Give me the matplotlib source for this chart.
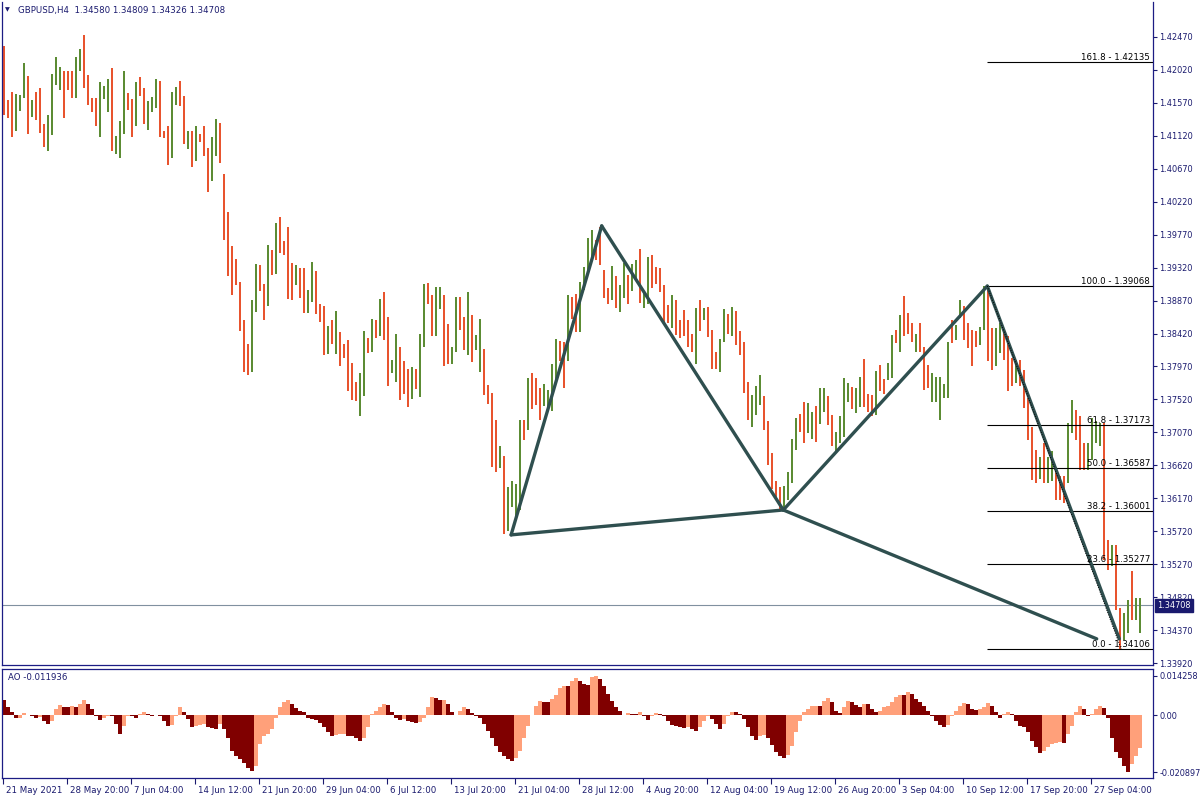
import matplotlib
matplotlib.use("Agg")
import matplotlib.pyplot as plt
import matplotlib.transforms as mtrans
import numpy as np

# ---------------- data (GBPUSD H4, each entry = envelope of two H4 bars) ----------------
highs = [
 1.4235,1.4161,1.4172,1.4169,1.4168,1.4212,1.4194,1.4161,1.4172,1.4178,
 1.4128,1.4141,1.4197,1.4220,1.4206,1.4201,1.4201,1.4201,1.4219,1.4231,
 1.4250,1.4195,1.4164,1.4164,1.4185,1.4180,1.4189,1.4204,1.4112,1.4132,
 1.4201,1.4170,1.4163,1.4186,1.4192,1.4178,1.4160,1.4165,1.4190,1.4187,
 1.4119,1.4125,1.4172,1.4179,1.4187,1.4167,1.4119,1.4119,1.4125,1.4115,
 1.4125,1.4095,1.4110,1.4135,1.4130,
 1.4060,1.4008,1.3962,1.3944,1.3912,1.3861,1.3828,1.3888,1.3937,1.3936,
 1.3910,1.3963,1.3956,1.3993,1.4001,1.3968,1.3987,1.3938,1.3936,1.3932,
 1.3931,1.3901,1.3940,1.3927,1.3882,1.3879,1.3852,1.3861,1.3873,1.3844,
 1.3828,1.3833,1.3802,1.3776,1.3788,1.3845,1.3836,1.3862,1.3860,1.3889,
 1.3899,1.3864,1.3806,1.3841,
 1.3824,1.3805,1.3794,1.3796,1.3794,1.3842,1.3909,1.3911,1.3895,1.3906,
 1.3906,1.3895,1.3855,1.3824,1.3892,1.3892,1.3865,1.3899,1.3867,1.3840,
 1.3862,1.3821,1.3772,1.3761,1.3724,1.3689,1.3675,1.3632,1.3641,1.3637,
 1.3724,1.3724,1.3781,1.3788,1.3781,1.3768,1.3773,1.3765,1.3801,1.3835,
 1.3832,1.3831,1.3894,1.3892,1.3896,1.3913,1.3933,1.3973,
 1.3983,1.3970,1.3988,1.3929,1.3904,1.3934,1.3920,1.3908,1.3939,1.3922,
 1.3937,1.3943,1.3958,1.3897,1.3946,1.3949,1.3933,1.3932,1.3908,1.3881,
 1.3895,1.3888,1.3861,1.3874,1.3861,1.3842,1.3877,1.3888,1.3877,1.3878,
 1.3847,1.3817,1.3834,1.3875,1.3868,1.3878,1.3873,1.3845,1.3830,1.3776,
 1.3758,1.3770,1.3786,1.3757,1.3722,1.3679,1.3640,
 1.3633,1.3634,1.3653,1.3698,1.3726,1.3732,1.3749,1.3747,1.3735,1.3743,
 1.3768,1.3767,1.3757,1.3731,1.3708,1.3730,1.3781,1.3775,1.3769,1.3768,
 1.3783,1.3807,1.3760,1.3758,1.3791,1.3799,1.3780,1.3802,1.3840,1.3847,
 1.3867,1.3893,1.3870,1.3856,1.3842,1.3856,1.3824,1.3799,1.3788,1.3783,
 1.3783,1.3773,1.3831,1.3861,1.3854,1.3888,1.3880,1.3856,
 1.3847,1.3845,1.3851,1.3907,1.3905,1.3849,1.3849,1.3856,1.3845,1.3838,
 1.3808,1.3806,1.3806,1.3792,1.3754,1.3715,1.3683,1.3674,1.3692,1.3674,
 1.3681,1.3660,1.3647,1.3647,1.3720,1.3751,1.3738,1.3729,1.3692,1.3692,
 1.3726,1.3722,1.3720,1.3720,1.3560,1.3553,1.3553,1.3467,1.3460,1.3478,
 1.3517,1.3481,1.34809,
]
lows = [
 1.4141,1.4137,1.4111,1.4119,1.4146,1.4164,1.4115,1.4138,1.4133,1.4116,
 1.4097,1.4091,1.4113,1.4182,1.4174,1.4136,1.4174,1.4164,1.4164,1.4201,
 1.4177,1.4154,1.4145,1.4125,1.4111,1.4162,1.4144,1.4091,1.4087,1.4082,
 1.4115,1.4147,1.4111,1.4126,1.4167,1.4128,1.4120,1.4144,1.4150,1.4111,
 1.4109,1.4072,1.4082,1.4154,1.4153,1.4101,1.4094,1.4070,1.4078,1.4103,
 1.4085,1.4035,1.4050,1.4085,1.4075,
 1.3970,1.3921,1.3894,1.3908,1.3846,1.3790,1.3785,1.3790,1.3871,1.3900,
 1.3860,1.3879,1.3922,1.3923,1.3952,1.3949,1.3889,1.3888,1.3908,1.3891,
 1.3870,1.3870,1.3885,1.3869,1.3858,1.3813,1.3814,1.3828,1.3814,1.3797,
 1.3809,1.3764,1.3751,1.3750,1.3730,1.3757,1.3816,1.3817,1.3836,1.3838,
 1.3833,1.3771,1.3788,1.3776,
 1.3751,1.3760,1.3741,1.3753,1.3766,1.3755,1.3823,1.3882,1.3838,1.3839,
 1.3876,1.3798,1.3801,1.3800,1.3817,1.3847,1.3820,1.3812,1.3803,1.3820,
 1.3790,1.3758,1.3746,1.3660,1.3653,1.3659,1.3568,1.3572,1.3605,1.3590,
 1.3601,1.3697,1.3710,1.3739,1.3745,1.3724,1.3743,1.3741,1.3736,1.3776,
 1.3804,1.3767,1.3804,1.3862,1.3844,1.3844,1.3902,1.3925,
 1.3947,1.3943,1.3936,1.3890,1.3883,1.3888,1.3877,1.3871,1.3890,1.3883,
 1.3900,1.3918,1.3884,1.3877,1.3883,1.3904,1.3909,1.3899,1.3856,1.3856,
 1.3849,1.3840,1.3836,1.3839,1.3824,1.3817,1.3801,1.3846,1.3861,1.3837,
 1.3793,1.3793,1.3789,1.3830,1.3842,1.3838,1.3827,1.3813,1.3761,1.3724,
 1.3715,1.3731,1.3745,1.3710,1.3663,1.3629,1.3615,
 1.3601,1.3599,1.3615,1.3638,1.3683,1.3708,1.3692,1.3706,1.3698,1.3694,
 1.3719,1.3735,1.3717,1.3688,1.3679,1.3692,1.3701,1.3749,1.3739,1.3733,
 1.3742,1.3742,1.3735,1.3730,1.3731,1.3763,1.3760,1.3779,1.3781,1.3829,
 1.3817,1.3838,1.3842,1.3831,1.3817,1.3817,1.3765,1.3767,1.3749,1.3749,
 1.3724,1.3754,1.3754,1.3829,1.3833,1.3863,1.3833,1.3822,
 1.3797,1.3824,1.3826,1.3847,1.3804,1.3792,1.3797,1.3815,1.3806,1.3763,
 1.3770,1.3774,1.3770,1.3740,1.3697,1.3642,1.3638,1.3644,1.3638,1.3638,
 1.3640,1.3615,1.3615,1.3610,1.3638,1.3706,1.3697,1.3656,1.3656,1.3656,
 1.3669,1.3692,1.3688,1.3533,1.3519,1.3524,1.3465,1.3411,1.3424,1.3433,
 1.3451,1.3451,1.34326,
]
direction = ("RRRGGGRGRR" "RGGGGRRRGG" "RRRRGGGRGG" "GRRGRRGGGR" "RRGGRRGRGR" "RRGGR"
             "RRRRRRRGGR" "RGRGRRRRGR" "RGGRRRGRGR" "RRRRGGRGRG" "RRGG"
             "RRRGRGGRRG" "GRRGGRRGRG" "GRRRRGRGGG" "GRGRRRGGGG" "RRGRRGGG"
             "GRRRRGRGGR" "GGRGGRRRRR" "GRRRRRGRGR" "RRGGRGRRRR" "GGGRRRR"
             "RGGGGRRGGR" "GGRRGGGGRG" "GRRRGRRGGR" "GRRRGRRRGG" "GGGRGGRR"
             "RRGGRRGGRR" "RGRRRRRGRG" "GRRRGGRRRG" "GGGRRGRRGG" "RGG")

ao = [
 0.0055,0.0028,0.0010,-0.0012,-0.0009,0.0006,0.0002,-0.0005,-0.0009,-0.0006,
 -0.0021,-0.0033,-0.0021,0.0022,0.0037,0.0030,0.0028,0.0032,0.0031,0.0040,
 0.0055,0.0040,0.0022,-0.0002,-0.0018,-0.0009,-0.0002,-0.0003,-0.0033,-0.0069,
 -0.0039,-0.0002,-0.0005,-0.0011,0.0004,0.0012,0.0004,-0.0005,0.0001,-0.0005,
 -0.0021,-0.0039,-0.0037,-0.0002,0.0028,0.0010,-0.0015,-0.0043,-0.0039,-0.0037,
 -0.0033,-0.0043,-0.0049,-0.0051,-0.0033,-0.0051,-0.0082,-0.0130,-0.0148,-0.0161,
 -0.0175,-0.0195,-0.0205,-0.0185,-0.0106,-0.0078,-0.0069,-0.0051,-0.0009,0.0028,
 0.0046,0.0055,0.0040,0.0024,0.0016,0.0010,-0.0009,-0.0015,-0.0017,-0.0029,
 -0.0045,-0.0063,-0.0075,-0.0073,-0.0069,-0.0068,-0.0075,-0.0078,-0.0085,-0.0094,
 -0.0082,-0.0045,0.0004,0.0016,0.0028,0.0040,0.0037,0.0010,-0.0012,-0.0017,
 -0.0016,-0.0021,-0.0027,-0.0030,-0.0027,-0.0009,0.0028,0.0065,0.0061,0.0055,
 0.0056,0.0040,0.0010,-0.0001,0.0016,0.0028,0.0022,0.0006,-0.0002,-0.0012,
 -0.0033,-0.0057,-0.0082,-0.0112,-0.0136,-0.0151,-0.0161,-0.0167,-0.0155,-0.0130,
 -0.0082,-0.0039,-0.0001,0.0034,0.0050,0.0049,0.0048,0.0058,0.0073,0.0097,
 0.0107,0.0105,0.0125,0.0134,0.0125,0.0113,0.0110,0.0138,0.0143,0.0131,
 0.0107,0.0077,0.0052,0.0028,0.0016,-0.0001,0.0006,0.0004,0.0003,0.0010,
 -0.0002,-0.0017,-0.0005,0.0007,0.0005,-0.0002,-0.0021,-0.0037,-0.0039,-0.0043,
 -0.0049,-0.0045,-0.0051,-0.0057,-0.0045,-0.0021,-0.0002,-0.0015,-0.0033,-0.0051,
 -0.0033,-0.0002,0.0012,0.0011,0.0004,-0.0015,-0.0045,-0.0075,-0.0090,-0.0075,
 -0.0073,-0.0082,-0.0110,-0.0134,-0.0148,-0.0155,-0.0146,-0.0112,-0.0063,-0.0021,
 0.0010,0.0022,0.0032,0.0034,0.0032,0.0052,0.0062,0.0049,0.0016,0.0007,
 0.0028,0.0050,0.0049,0.0037,0.0030,0.0040,0.0039,0.0022,0.0010,0.0016,
 0.0028,0.0034,0.0049,0.0065,0.0073,0.0072,0.0083,0.0077,0.0058,0.0046,
 0.0034,0.0016,-0.0005,-0.0021,-0.0037,-0.0045,-0.0037,-0.0005,0.0016,0.0034,
 0.0044,0.0040,0.0022,0.0019,0.0022,0.0028,0.0044,0.0034,0.0010,-0.0009,
 0.0004,0.0012,0.0004,-0.0021,-0.0041,-0.0045,-0.0063,-0.0094,-0.0118,-0.0139,
 -0.0130,-0.0116,-0.0106,-0.0102,-0.0100,-0.0101,-0.0069,-0.0039,0.0010,0.0032,
 0.0022,-0.0004,0.0004,0.0022,0.0032,0.0024,-0.0012,-0.0082,-0.0136,-0.0155,
 -0.0185,-0.0209,-0.0179,-0.0150,-0.011936,
]

time_labels = ["21 May 2021", "28 May 20:00", "7 Jun 04:00", "14 Jun 12:00", "21 Jun 20:00",
               "29 Jun 04:00", "6 Jul 12:00", "13 Jul 20:00", "21 Jul 04:00", "28 Jul 12:00",
               "4 Aug 20:00", "12 Aug 04:00", "19 Aug 12:00", "26 Aug 20:00", "3 Sep 04:00",
               "10 Sep 12:00", "17 Sep 20:00", "27 Sep 04:00"]
price_ticks = [1.42470, 1.42020, 1.41570, 1.41120, 1.40670, 1.40220, 1.39770, 1.39320,
               1.38870, 1.38420, 1.37970, 1.37520, 1.37070, 1.36620, 1.36170, 1.35720,
               1.35270, 1.34820, 1.34370, 1.33920]

# harmonic pattern points (bar index, price)
pat_names = ["X", "A", "B", "C", "D1", "D2"]
pat_bar = [253.9, 299.2, 390.0, 492.0, 546.7, 558.0]
pat_price = [1.3567, 1.3989, 1.3601, 1.39068, 1.3425, 1.3425]

fib_ratio = ["161.8", "100.0", "61.8", "50.0", "38.2", "23.6", "0.0"]
fib_price = [1.42135, 1.39068, 1.37173, 1.36587, 1.36001, 1.35277, 1.34106]
fib_start_bar = 492.0
fib_low_bar = 559.0

last_price = 1.34708
header = "GBPUSD,H4  1.34580 1.34809 1.34326 1.34708"
ao_text = "AO -0.011936"

# ---------------- figure ----------------
plt.rcParams['font.family'] = ['DejaVu Sans']
FS = 6.2
FS_AX = 5.9
NAVY = '#1a1a6e'
FRAME = '#1c1c84'
W, H = 1200, 800
fig = plt.figure(figsize=(12, 8), dpi=100)
fig.patch.set_facecolor('white')

def fx(px):
    return px / W

def fy(py):
    return 1 - py / H

ax = fig.add_axes([fx(2), fy(665), fx(1153) - fx(2), fy(2) - fy(665)])
ax2 = fig.add_axes([fx(2), fy(778), fx(1153) - fx(2), fy(669) - fy(778)])

n = min(len(highs), len(lows), len(direction), len(ao))
xs = np.arange(n) * 2 + 0.5
XMIN, XMAX = -0.65, 574.85

# price bars
cols = ['#5C8C34' if d == 'G' else '#E8542E' for d in direction[:n]]
ax.vlines(xs, lows[:n], highs[:n], colors=cols, linewidth=1.44, antialiased=False, zorder=2)

ax.set_xlim(XMIN, XMAX)
ax.set_ylim(1.338928, 1.429480)

# current price line
ax.axhline(last_price, color='#8090a0', lw=0.8, zorder=1)

# pattern lines
pb = dict(zip(pat_names, pat_bar))
pp = dict(zip(pat_names, pat_price))
segs = [("X", "A"), ("A", "B"), ("B", "C"), ("C", "D2"), ("X", "B"), ("B", "D1")]
for a, b in segs:
    ax.plot([pb[a], pb[b]], [pp[a], pp[b]], color='#2F4F4F', lw=2.4,
            solid_capstyle='round', zorder=4)

# fibonacci
ax.plot([fib_start_bar, fib_low_bar], [fib_price[1], fib_price[-1]], color='black',
        lw=0.7, ls=(0, (1, 1.5)), zorder=5)
for r, p in zip(fib_ratio, fib_price):
    ax.hlines(p, fib_start_bar, XMAX, color='black', lw=0.8, zorder=3)
    ax.text(XMAX - 1.5, p, f"{r} - {p:.5f}", ha='right', va='bottom', fontsize=FS,
            color='black', zorder=6)

# axes styling main
ax.set_xticks([])
ax.yaxis.tick_right()
ax.set_yticks(price_ticks)
ax.set_yticklabels([f"{v:.5f}" for v in price_ticks])
ax.tick_params(axis='y', direction='out', length=3, width=0.8, colors=NAVY,
               labelsize=FS_AX, pad=1.5)
for s in ['left', 'right', 'bottom']:
    ax.spines[s].set_color(FRAME)
    ax.spines[s].set_linewidth(0.9)
ax.spines['top'].set_visible(False)

# last price label
tr = mtrans.blended_transform_factory(ax.transAxes, ax.transData)
off = mtrans.ScaledTranslation(4 / 100, 0, fig.dpi_scale_trans)
ax.text(1.0, last_price, f"{last_price:.5f}", transform=tr + off, ha='left', va='center',
        fontsize=FS_AX, color='white', clip_on=False, zorder=10,
        bbox=dict(boxstyle='square,pad=0.25', fc=NAVY, ec=NAVY))

# header
fig.text(fx(5), fy(10), "\u25BC", fontsize=4.5, color=NAVY, va='center')
fig.text(fx(18), fy(10), header, fontsize=FS, color=NAVY, va='center')

# ---------------- AO panel ----------------
ao_cols = []
prev = None
for i in range(n):
    v = ao[i]
    if prev is None:
        c = '#800000'
    elif v > prev:
        c = '#FFA07A'
    elif v < prev:
        c = '#800000'
    else:
        c = ao_cols[-1]
    ao_cols.append(c)
    prev = v
ax2.bar(xs, ao[:n], width=2.0, color=ao_cols, linewidth=0, antialiased=False)
ax2.set_xlim(XMIN, XMAX)
ax2.set_ylim(-0.022977, 0.016813)
ax2.yaxis.tick_right()
ax2.set_yticks([0.014258, 0.0, -0.020897])
ax2.set_yticklabels(["0.014258", "0.00", "-0.020897"])
ax2.tick_params(axis='y', direction='out', length=3, width=0.8, colors=NAVY,
                labelsize=FS_AX, pad=1.5)
tick_pos = np.arange(len(time_labels)) * 32
ax2.set_xticks(tick_pos)
ax2.set_xticklabels(time_labels)
ax2.tick_params(axis='x', direction='out', length=4, width=0.8, colors=NAVY,
                labelsize=FS, pad=2)
xoff = mtrans.ScaledTranslation(3 / 100, 0, fig.dpi_scale_trans)
for lab in ax2.get_xticklabels():
    lab.set_ha('left')
    lab.set_transform(lab.get_transform() + xoff)
for s in ['left', 'right', 'bottom', 'top']:
    ax2.spines[s].set_color(FRAME)
    ax2.spines[s].set_linewidth(0.9)
ax2.text(fx(8), fy(677), ao_text, transform=fig.transFigure, fontsize=FS, color=NAVY,
         va='center', ha='left')

fig.savefig("out.png", dpi=100, facecolor='white')
